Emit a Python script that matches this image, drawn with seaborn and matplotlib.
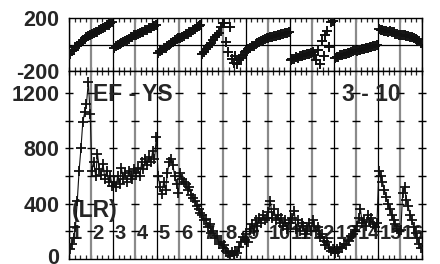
import numpy as np
import pandas as pd
import matplotlib
matplotlib.use("Agg")
import matplotlib.pyplot as plt
import matplotlib.transforms as mtrans
import seaborn as sns
from matplotlib.ticker import MultipleLocator

# 16 segments, 12 samples each
per_seg = 12
seg_labels = [str(i) for i in range(1, 17)]

# top panel (-200..200)
phase = [
    -70, -52, -40, -22, -12, 6, 16, 34, 42, 58, 64, 74,        # 1
    76, 84, 94, 98, 112, 116, 127, 133, 144, 149, 161, 168,    # 2
    -24, -13, -7, 4, 8, 20, 26, 37, 40, 54, 60, 72,            # 3
    70, 82, 84, 95, 98, 110, 113, 122, 126, 137, 140, 150,     # 4
    -64, -50, -42, -28, -24, -8, -2, 12, 18, 32, 38, 50,       # 5
    48, 60, 64, 77, 83, 94, 98, 112, 116, 130, 136, 148,       # 6
    -70, -55, -35, -20, 0, 15, 35, 55, 70, 90, 130, 160,       # 7
    160, 20, -60, 130, -110, -140, -90, -150, -120, -100, -80, -60,  # 8
    -46, -33, -27, -13, -10, 2, 8, 20, 23, 37, 40, 50,         # 9
    50, 57, 58, 64, 64, 72, 70, 78, 78, 86, 86, 92,            # 10
    -120, -110, -110, -98, -100, -90, -90, -80, -80, -72, -72, -64,  # 11
    -60, -80, -120, -40, -150, 30, -90, 70, 100, -20, 170, 180,      # 12
    -102, -93, -92, -83, -82, -73, -72, -63, -62, -53, -52, -44,     # 13
    -47, -40, -40, -33, -32, -25, -24, -18, -17, -10, -10, -4,       # 14
    114, 108, 110, 103, 104, 98, 99, 91, 92, 83, 82, 74,             # 15
    74, 68, 70, 64, 64, 56, 57, 48, 44, 33, 27, 12,                  # 16
]

# bottom panel (0..1360)
rate = [
    70, 110, 150, 230, 420, 640, 800, 990, 1060, 1120, 1280, 1050,   # 1
    640, 700, 600, 760, 650, 610, 690, 580, 640, 560, 600, 530,      # 2
    560, 520, 600, 540, 660, 580, 620, 560, 640, 600, 580, 650,      # 3
    620, 660, 600, 700, 650, 720, 680, 740, 700, 780, 720, 880,      # 4
    600, 520, 470, 560, 500, 620, 700, 720, 680, 600, 540, 480,      # 5
    620, 580, 560, 540, 500, 520, 460, 440, 420, 380, 360, 330,      # 6
    320, 280, 290, 230, 250, 190, 200, 150, 170, 110, 120, 80,       # 7
    100, 60, 40, 20, 50, 30, 60, 40, 90, 120, 160, 140,              # 8
    180, 120, 220, 250, 200, 280, 240, 300, 260, 320, 280, 300,      # 9
    340, 420, 300, 360, 280, 320, 260, 300, 240, 280, 220, 260,      # 10
    260, 300, 350, 220, 280, 200, 260, 240, 180, 220, 260, 200,      # 11
    280, 240, 200, 230, 160, 180, 130, 100, 120, 80, 60, 70,         # 12
    40, 70, 50, 90, 80, 110, 100, 140, 130, 170, 180, 210,           # 13
    240, 300, 360, 260, 280, 240, 320, 270, 300, 250, 230, 260,      # 14
    640, 600, 560, 500, 450, 400, 360, 320, 280, 250, 220, 200,      # 15
    210, 480, 520, 430, 380, 320, 280, 230, 190, 150, 110, 80,       # 16
]

top_ticks = [-200, 200]
bot_ticks = [0, 400, 800, 1200]
cross_levels = [200, 400, 600, 800, 1000, 1200]

n = len(rate)
df = pd.DataFrame({
    "x": (np.arange(n) + 0.5) / per_seg,
    "seg": np.arange(n) // per_seg,
    "phase": phase,
    "rate": rate,
})

sns.set_style("white")
plt.rcParams["font.family"] = ["Liberation Sans", "DejaVu Sans"]
plt.rcParams["font.weight"] = "bold"
plt.rcParams["axes.unicode_minus"] = False

W, H = 440, 264
fig = plt.figure(figsize=(W / 100, H / 100), dpi=100)
ax_top = fig.add_axes([69 / W, 1 - 71 / H, 353 / W, 53 / H])
ax_bot = fig.add_axes([69 / W, 1 - 259 / H, 353 / W, 188 / H])

nseg = len(seg_labels)
ink = "#111111"
fs = 15.5

for ax in (ax_top, ax_bot):
    ax.set_xlim(0, nseg)
    for k in range(nseg + 1):
        if k % 2 == 0:
            ax.axvline(k, color="black", lw=0.9, zorder=1)
        else:
            ax.axvline(k, color="#8a8a8a", lw=1.6, zorder=1)
    ax.xaxis.set_major_locator(MultipleLocator(0.25))
    ax.tick_params(axis="x", which="major", direction="in", length=3,
                   width=0.9, top=True, bottom=True, labelbottom=False)
    ax.tick_params(axis="y", direction="in", length=0, pad=7,
                   labelsize=fs)
    for s in ax.spines.values():
        s.set_color("black")
        s.set_linewidth(1.0)

# top panel: dense bands of crosses
ax_top.axhline(0, color="black", lw=0.9, zorder=1)
sns.scatterplot(data=df, x="x", y="phase", ax=ax_top, color=ink, marker="+",
                s=55, linewidth=1.4, zorder=4, legend=False)
ax_top.set_ylim(-200, 200)
ax_top.set_yticks(top_ticks)
ax_top.set_yticklabels([str(v) for v in top_ticks], fontweight="bold", fontsize=fs)

# bottom panel
xx, yy = np.meshgrid(np.arange(nseg + 1), cross_levels)
ax_bot.scatter(xx.ravel(), yy.ravel(), marker="_", s=30, color="black",
               linewidths=1.0, zorder=2, clip_on=False)
sns.lineplot(data=df, x="x", y="rate", estimator=None, sort=False, ax=ax_bot,
             color=ink, lw=0.8, marker="+", markersize=7.5, markeredgewidth=1.3,
             markeredgecolor=ink, zorder=4)
ax_bot.set_ylim(0, 1360)
ax_bot.set_yticks(bot_ticks)
ax_bot.set_yticklabels([str(v) for v in bot_ticks], fontweight="bold", fontsize=fs)
# nudge the "0" label up so it stays inside the image
zero_lab = ax_bot.get_yticklabels()[0]
zero_lab.set_transform(zero_lab.get_transform()
                       + mtrans.ScaledTranslation(0, 3 / 100, fig.dpi_scale_trans))

for ax in (ax_top, ax_bot):
    ax.set_xlabel("")
    ax.set_ylabel("")

ax_bot.text(2.9, 1190, "EF - YS", ha="center", va="center", fontsize=fs + 1,
            fontweight="bold", zorder=3)
ax_bot.text(13.7, 1190, "3 - 10", ha="center", va="center", fontsize=fs + 1,
            fontweight="bold", zorder=3)
ax_bot.text(0.12, 350, "(LR)", ha="left", va="center", fontsize=fs + 1,
            fontweight="bold", zorder=3)
for k, lab in enumerate(seg_labels):
    ax_bot.text(k + 0.07, 182, lab, ha="left", va="center", fontsize=14.5,
                fontweight="bold", zorder=3)

fig.savefig("out.png", dpi=100)
